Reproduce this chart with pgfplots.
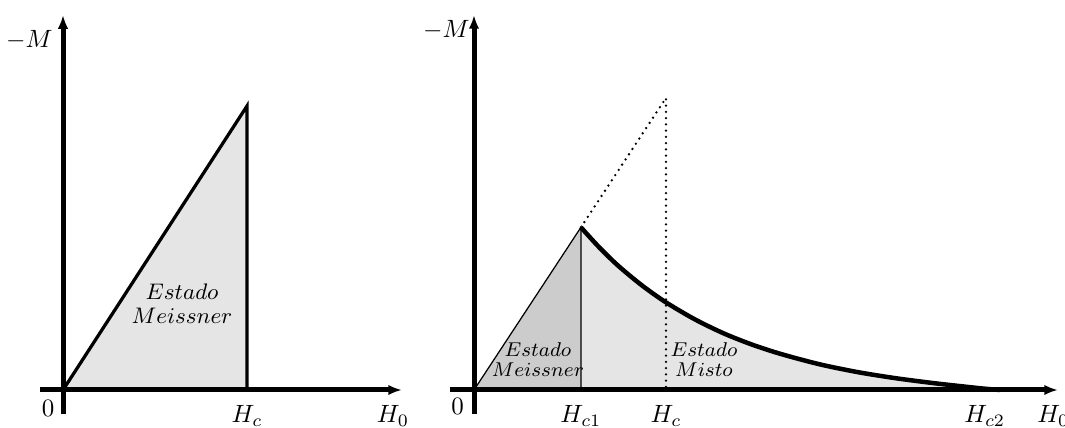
\documentclass[border=0pt]{standalone}
\usepackage{pgfplots}
\usepackage{pgfplotstable}
\pgfplotsset{compat=1.18}
\usetikzlibrary{arrows.meta}

% Magnetization of the mixed state between H_c1 and H_c2
\pgfplotstableread{
x      y
0.557  0.557
0.650  0.490
0.750  0.426
0.875  0.358
1.000  0.300
1.150  0.242
1.300  0.194
1.450  0.155
1.600  0.123
1.800  0.088
2.000  0.061
2.200  0.040
2.400  0.023
2.550  0.012
2.650  0.005
2.740  0.000
}\mixedcurve

\pgfplotsset{
  magaxis/.style={
    scale only axis, axis lines=middle, axis on top,
    enlargelimits=false, clip=false,
    axis line style={line width=2pt, -{Latex[length=5.5pt,width=4.2pt]}},
    ytick=\empty, major tick length=0pt,
    xticklabel style={inner sep=0pt, anchor=north, yshift=-6pt},
    anchor=south west,
  },
  dotline/.style={line width=1.05pt, line cap=round, dash pattern=on 0pt off 2.5pt},
}

\begin{document}
\begin{tikzpicture}
\useasboundingbox (0,0) rectangle (426pt,171.2pt);

% Type I superconductor
\begin{axis}[magaxis, at={(16pt,5.6pt)}, width=144.8pt, height=159.6pt,
  xmin=-0.125, xmax=1.842, ymin=-0.0845, ymax=1.320,
  xtick={1}, xticklabels={$H_c$}]
  \addplot[fill=gray!20, draw=none] coordinates {(0,0) (1,1)} \closedcycle;
  \addplot[line width=1.3pt] coordinates {(0,0) (1,1) (1,0)};
  \node[font=\fontsize{9.3}{9.6}\selectfont, align=center] at (axis cs:0.647,0.303) {$Estado$\\$Meissner$};
  \node[anchor=east, inner sep=0pt, xshift=-4pt] at (axis cs:0,1.232) {$-M$};
  \node[inner sep=0pt, xshift=-6pt, yshift=-7.2pt] at (axis cs:0,0) {$0$};
  \node[anchor=north, inner sep=0pt, yshift=-6pt] at (axis cs:1.793,0) {$H_0$};
\end{axis}

% Type II superconductor
\begin{axis}[magaxis, at={(180pt,5.6pt)}, width=243.2pt, height=159.6pt,
  xmin=-0.125, xmax=3.0417, ymin=-0.0822, ymax=1.284,
  xtick={0.557,1,2.66}, xticklabels={$H_{c1}$,$H_c$,$H_{c2}$}]
  \addplot[fill=gray!20, draw=none, smooth, tension=0.5] table {\mixedcurve} \closedcycle;
  \addplot[fill=gray!40, draw=none] coordinates {(0,0) (0.557,0.557)} \closedcycle;
  \addplot[line width=0.5pt] coordinates {(0,0) (0.557,0.557) (0.557,0)};
  \addplot[dotline] coordinates {(0.557,0.557) (1,1) (1,0)};
  \addplot[line width=1.8pt, smooth, tension=0.5] table {\mixedcurve};
  \node[font=\fontsize{7.7}{8}\selectfont, align=center] at (axis cs:0.333,0.103) {$Estado$\\$Meissner$};
  \node[font=\fontsize{7.7}{8}\selectfont, align=center] at (axis cs:1.198,0.103) {$Estado$\\$Misto$};
  \node[anchor=east, inner sep=0pt, xshift=-1.6pt] at (axis cs:0,1.232) {$-M$};
  \node[inner sep=0pt, xshift=-6.6pt, yshift=-6.6pt] at (axis cs:0,0) {$0$};
  \node[anchor=north west, inner sep=0pt, yshift=-6pt] at (axis cs:2.932,0) {$H_0$};
\end{axis}
\end{tikzpicture}
\end{document}
